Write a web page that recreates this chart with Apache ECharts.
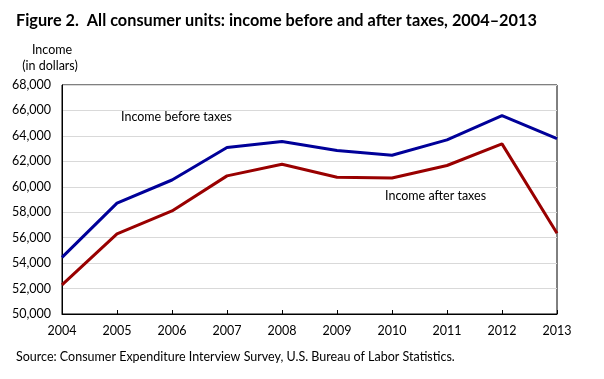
<!DOCTYPE html>
<html>
<head>
<meta charset="utf-8">
<script src="https://cdn.jsdelivr.net/npm/echarts@6/dist/echarts.min.js"></script>
<style>
html,body{margin:0;padding:0;background:#fff;}
#chart{width:604px;height:379px;}
</style>
</head>
<body>
<div id="chart"></div>
<script>
const years = ['2004','2005','2006','2007','2008','2009','2010','2011','2012','2013'];
const incomeBeforeTaxes = [54453, 58712, 60533, 63091, 63563, 62857, 62481, 63685, 65596, 63784];
const incomeAfterTaxes = [52287, 56304, 58101, 60858, 61774, 60753, 60694, 61673, 63370, 56352];
const yMin = 50000, yMax = 68000, yStep = 2000;

const FONT = 'Lato';
const chart = echarts.init(document.getElementById('chart'), null, {renderer:'canvas'});
chart.setOption({
  animation: false,
  backgroundColor: '#fff',
  grid: {left: 62, right: 47, top: 85, bottom: 65, show: true, borderColor: '#000', borderWidth: 1, containLabel: false},
  xAxis: {
    type: 'category', data: years, boundaryGap: false,
    axisLine: {lineStyle: {color: '#000', width: 1}},
    axisTick: {inside: true, length: 4, lineStyle: {color: '#000'}},
    axisLabel: {color: '#000', fontFamily: FONT, fontSize: 12.5, margin: 10},
    splitLine: {show: false}
  },
  yAxis: {
    type: 'value', min: yMin, max: yMax, interval: yStep,
    axisLine: {show: true, lineStyle: {color: '#000', width: 1}},
    axisTick: {show: false},
    axisLabel: {color: '#000', fontFamily: FONT, fontSize: 12.5, margin: 11,
      formatter: v => v.toLocaleString('en-US')},
    splitLine: {show: true, lineStyle: {color: '#d9d9d9', width: 1}}
  },
  series: [
    {name: 'Income before taxes', type: 'line', data: incomeBeforeTaxes, symbol: 'none',
      lineStyle: {color: '#000099', width: 3}, itemStyle: {color: '#000099'}},
    {name: 'Income after taxes', type: 'line', data: incomeAfterTaxes, symbol: 'none',
      lineStyle: {color: '#990000', width: 3}, itemStyle: {color: '#990000'}}
  ],
  graphic: [
    {type: 'text', x: 16, y: 21, style: {text: 'Figure 2.  All consumer units: income before and after taxes, 2004\u20132013', font: 'bold 16.3px ' + FONT, fill: '#000', verticalAlign: 'middle'}},
    {type: 'text', x: 52, y: 50, style: {text: 'Income', font: '12.5px ' + FONT, fill: '#000', align: 'center', verticalAlign: 'middle'}},
    {type: 'text', x: 50, y: 66, style: {text: '(in dollars)', font: '12.5px ' + FONT, fill: '#000', align: 'center', verticalAlign: 'middle'}},
    {type: 'text', x: 121, y: 117, style: {text: 'Income before taxes', font: '12.5px ' + FONT, fill: '#000', verticalAlign: 'middle'}},
    {type: 'text', x: 385, y: 196, style: {text: 'Income after taxes', font: '12.5px ' + FONT, fill: '#000', verticalAlign: 'middle'}},
    {type: 'text', x: 16, y: 357, style: {text: 'Source: Consumer Expenditure Interview Survey, U.S. Bureau of Labor Statistics.', font: '12.5px ' + FONT, fill: '#000', verticalAlign: 'middle'}}
  ]
});
</script>
</body>
</html>
